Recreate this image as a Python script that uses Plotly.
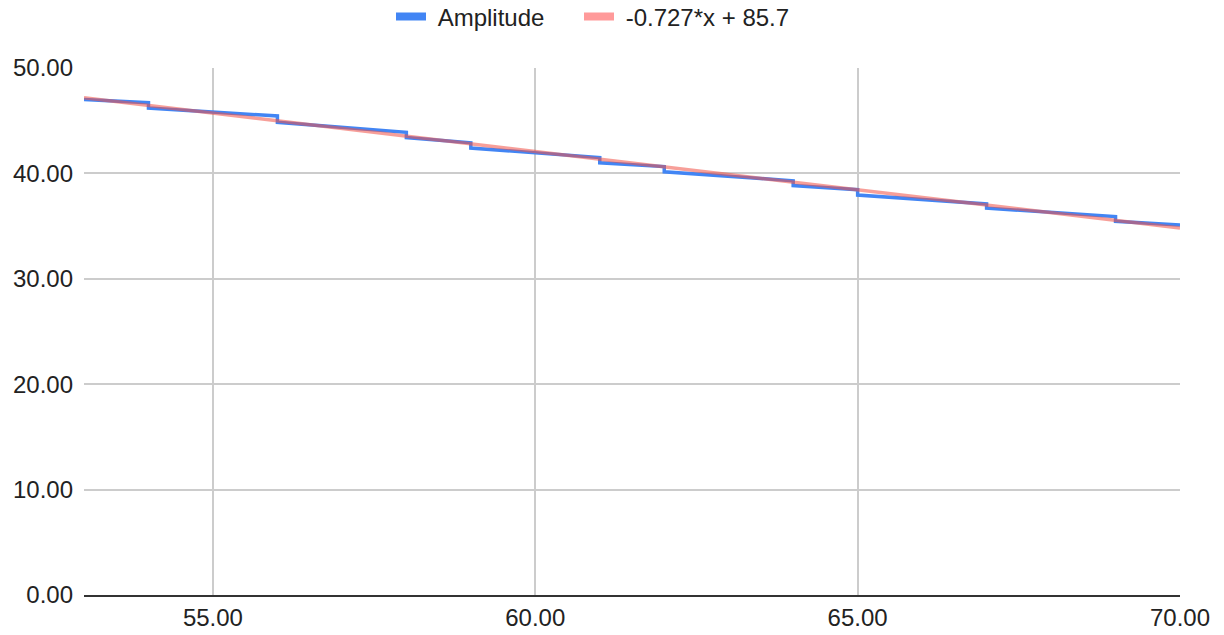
import plotly.graph_objects as go

# Amplitude series (step-like line; repeated x gives the vertical drops)
amp_x = [53, 54, 54, 56, 56, 58, 58, 59, 59, 61, 61, 62, 62, 64, 64, 65, 65, 67, 67, 69, 69, 70]
amp_y = [47.0, 46.7, 46.2, 45.45, 44.85, 43.9, 43.4, 42.9, 42.4, 41.5, 41.0, 40.65, 40.15,
         39.3, 38.85, 38.45, 37.95, 37.1, 36.7, 35.9, 35.45, 35.1]

# Trendline from the legend: -0.727*x + 85.7
trend_slope = -0.727
trend_intercept = 85.7
trend_x = [53, 70]
trend_y = [trend_slope * x + trend_intercept for x in trend_x]

x_ticks = [55, 60, 65, 70]
y_ticks = [0, 10, 20, 30, 40, 50]

series_names = ["Amplitude", "-0.727*x + 85.7"]

FONT = "Liberation Sans, Arial, sans-serif"
BLUE = "#4285F4"
RED = "rgba(240,80,70,0.55)"
NB = "\u00a0"

fig = go.Figure()
fig.add_trace(go.Scatter(x=amp_x, y=amp_y, mode="lines", name=series_names[0],
                         line=dict(color=BLUE, width=3.5), showlegend=False))
fig.add_trace(go.Scatter(x=trend_x, y=trend_y, mode="lines", name=series_names[1],
                         line=dict(color=RED, width=3.5), showlegend=False))
# legend entries
fig.add_trace(go.Scatter(x=[None], y=[None], mode="lines", name=NB + series_names[0],
                         line=dict(color=BLUE, width=8), legend="legend"))
fig.add_trace(go.Scatter(x=[None], y=[None], mode="lines", name=NB + series_names[1],
                         line=dict(color="#FF9A9A", width=8), legend="legend2"))

leg_common = dict(orientation="h", xanchor="left", y=1 - 17 / 635, yanchor="middle",
                  yref="container", font=dict(size=24), itemwidth=30,
                  bgcolor="rgba(0,0,0,0)")

fig.update_layout(
    width=1224, height=635,
    margin=dict(l=84, r=44, t=68, b=40, autoexpand=False),
    paper_bgcolor="white", plot_bgcolor="white",
    font=dict(family=FONT, size=24, color="#222222"),
    legend=dict(x=(395 - 84 - 4) / 1096, **leg_common),
    legend2=dict(x=(583 - 84 - 4) / 1096, **leg_common),
    showlegend=True,
)
fig.update_xaxes(range=[53, 70], tickvals=x_ticks, tickformat=".2f",
                 showgrid=True, gridcolor="#CCCCCC", gridwidth=1.5,
                 zeroline=False, showline=True, linecolor="#333333", linewidth=2,
                 ticks="", ticklabelstandoff=0, automargin=False)
fig.update_yaxes(range=[0, 50], tickvals=y_ticks, tickformat=".2f",
                 showgrid=True, gridcolor="#CCCCCC", gridwidth=1.5,
                 zeroline=False, showline=False, ticks="", ticklabelstandoff=10,
                 automargin=False)

fig.write_html("out.html")
